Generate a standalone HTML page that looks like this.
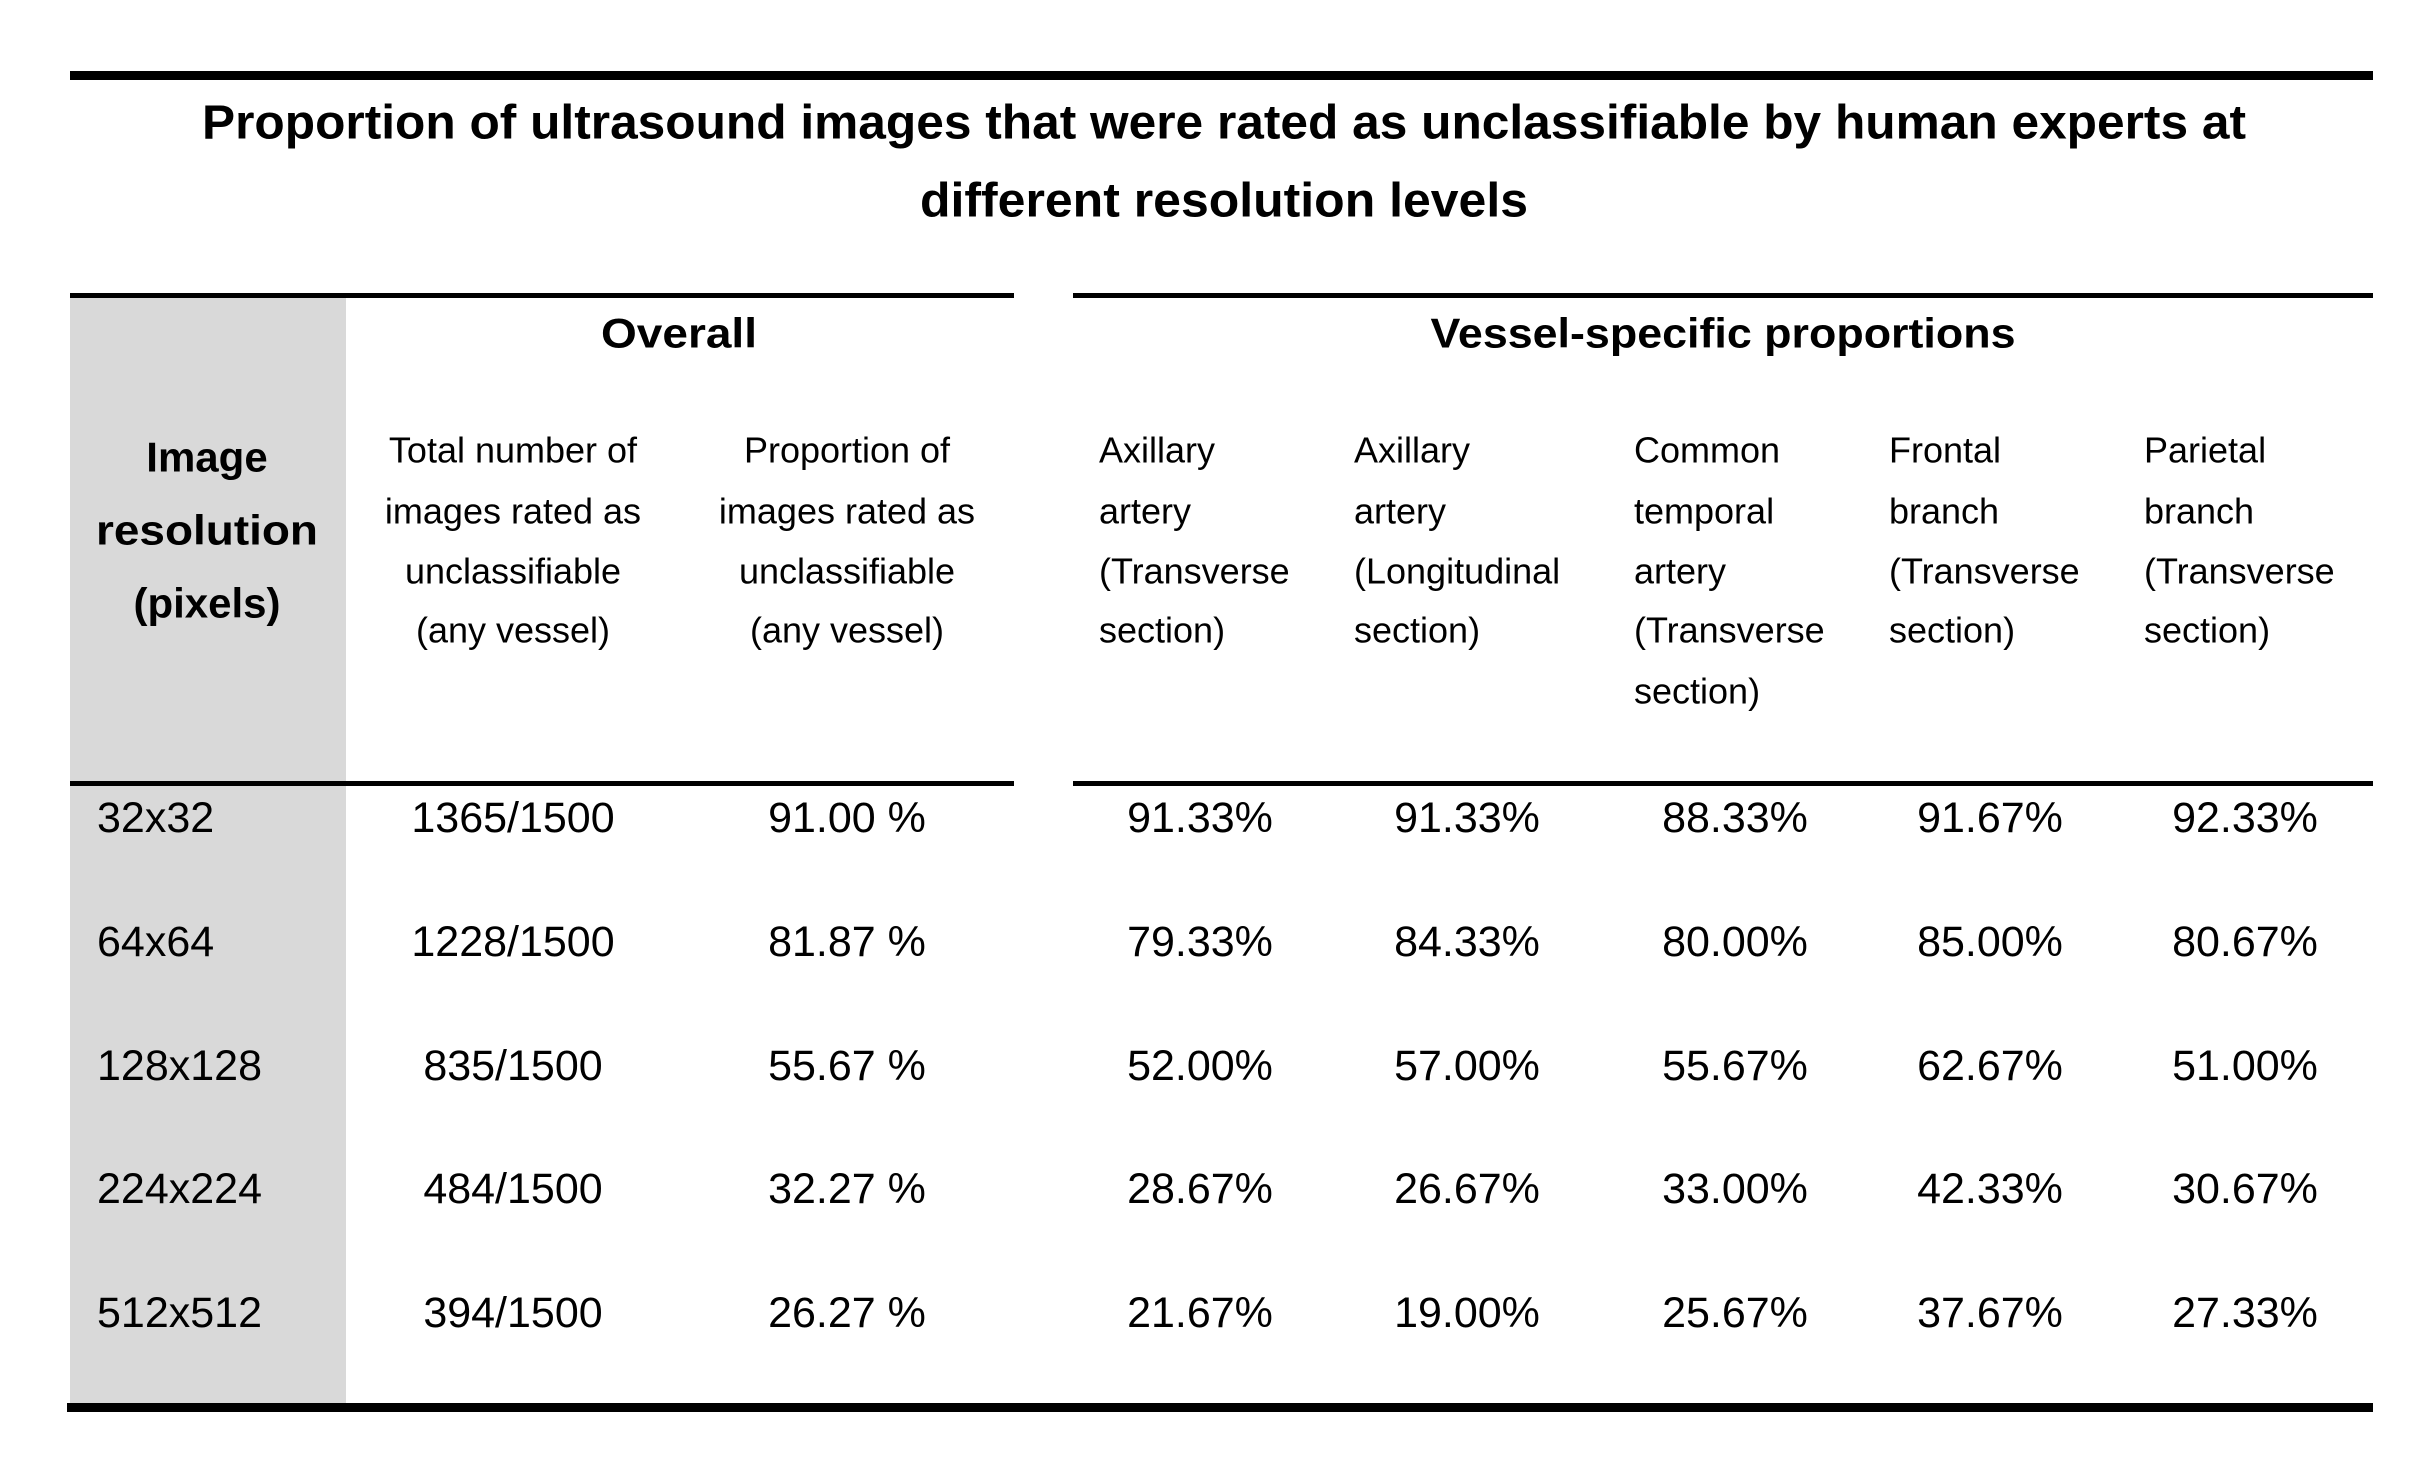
<!DOCTYPE html>
<html><head><meta charset="utf-8"><style>
html,body{margin:0;padding:0;background:#fff}
svg{display:block}
text{font-family:"Liberation Sans",sans-serif;fill:#000}
</style></head><body>
<svg id="t" width="2434" height="1476" viewBox="0 0 2434 1476" xmlns="http://www.w3.org/2000/svg">
<rect x="70" y="298" width="276" height="1105" fill="#d9d9d9"/>
<rect x="70" y="71" width="2303" height="9" fill="#000"/>
<text x="1224" y="123" text-anchor="middle" dominant-baseline="central" font-weight="bold" font-size="48" textLength="2044" lengthAdjust="spacingAndGlyphs">Proportion of ultrasound images that were rated as unclassifiable by human experts at</text>
<text x="1224" y="201" text-anchor="middle" dominant-baseline="central" font-weight="bold" font-size="48" textLength="608" lengthAdjust="spacingAndGlyphs">different resolution levels</text>
<rect x="70" y="293" width="944" height="5" fill="#000"/>
<rect x="1073" y="293" width="1300" height="5" fill="#000"/>
<text x="679" y="333" text-anchor="middle" dominant-baseline="central" font-weight="bold" font-size="42" textLength="156" lengthAdjust="spacingAndGlyphs">Overall</text>
<text x="1723" y="333" text-anchor="middle" dominant-baseline="central" font-weight="bold" font-size="42" textLength="585" lengthAdjust="spacingAndGlyphs">Vessel-specific proportions</text>
<g>
<text x="207" y="457" text-anchor="middle" dominant-baseline="central" font-weight="bold" font-size="42">Image</text>
<text x="207" y="530" text-anchor="middle" dominant-baseline="central" font-weight="bold" font-size="42" textLength="222" lengthAdjust="spacingAndGlyphs">resolution</text>
<text x="207" y="603" text-anchor="middle" dominant-baseline="central" font-weight="bold" font-size="42">(pixels)</text>
</g>
<g id="heads"></g>
<rect x="70" y="781" width="944" height="5" fill="#000"/>
<rect x="1073" y="781" width="1300" height="5" fill="#000"/>
<g id="rows"></g>
<rect x="67" y="1403" width="2306" height="9" fill="#000"/>
</svg>
<script>
const resolutions=["32x32","64x64","128x128","224x224","512x512"];
const totals=["1365/1500","1228/1500","835/1500","484/1500","394/1500"];
const overall=["91.00 %","81.87 %","55.67 %","32.27 %","26.27 %"];
const axTrans=["91.33%","79.33%","52.00%","28.67%","21.67%"];
const axLong=["91.33%","84.33%","57.00%","26.67%","19.00%"];
const commonTemp=["88.33%","80.00%","55.67%","33.00%","25.67%"];
const frontal=["91.67%","85.00%","62.67%","42.33%","37.67%"];
const parietal=["92.33%","80.67%","51.00%","30.67%","27.33%"];
const headers=[
 ["Total number of","images rated as","unclassifiable","(any vessel)"],
 ["Proportion of","images rated as","unclassifiable","(any vessel)"],
 ["Axillary","artery","(Transverse","section)"],
 ["Axillary","artery","(Longitudinal","section)"],
 ["Common","temporal","artery","(Transverse","section)"],
 ["Frontal","branch","(Transverse","section)"],
 ["Parietal","branch","(Transverse","section)"]
];
const NS="http://www.w3.org/2000/svg";
const headX=[513,847,1099,1354,1634,1889,2144];
const headAnchor=["middle","middle","start","start","start","start","start"];
const headLineY=[450,511,571,630,691];
const hg=document.getElementById('heads');
headers.forEach((lines,c)=>{
  const g=document.createElementNS(NS,'g');
  
  
  lines.forEach((l,i)=>{
    const t=document.createElementNS(NS,'text');
    t.setAttribute('x',headX[c]);t.setAttribute('y',headLineY[i]);
    t.setAttribute('text-anchor',headAnchor[c]);
    t.setAttribute('dominant-baseline','central');
    t.setAttribute('font-size','36');
    t.textContent=l;g.appendChild(t);
  });
  hg.appendChild(g);
});
const rowY=[818,942,1066,1189,1313];
const cols=[resolutions,totals,overall,axTrans,axLong,commonTemp,frontal,parietal];
const colX=[97,513,847,1200,1467,1735,1990,2245];
const colNames=['resolution','total-unclassifiable','overall-proportion','axillary-transverse','axillary-longitudinal','common-temporal','frontal-branch','parietal-branch'];
const rg=document.getElementById('rows');
resolutions.forEach((r,i)=>{
  const g=document.createElementNS(NS,'g');
  
  
  cols.forEach((arr,c)=>{
    const t=document.createElementNS(NS,'text');
    
    
    t.setAttribute('x',colX[c]);t.setAttribute('y',rowY[i]);
    t.setAttribute('text-anchor',c===0?'start':'middle');
    t.setAttribute('dominant-baseline','central');
    t.setAttribute('font-size','43');
    t.textContent=arr[i];g.appendChild(t);
  });
  rg.appendChild(g);
});
</script>
</body></html>
